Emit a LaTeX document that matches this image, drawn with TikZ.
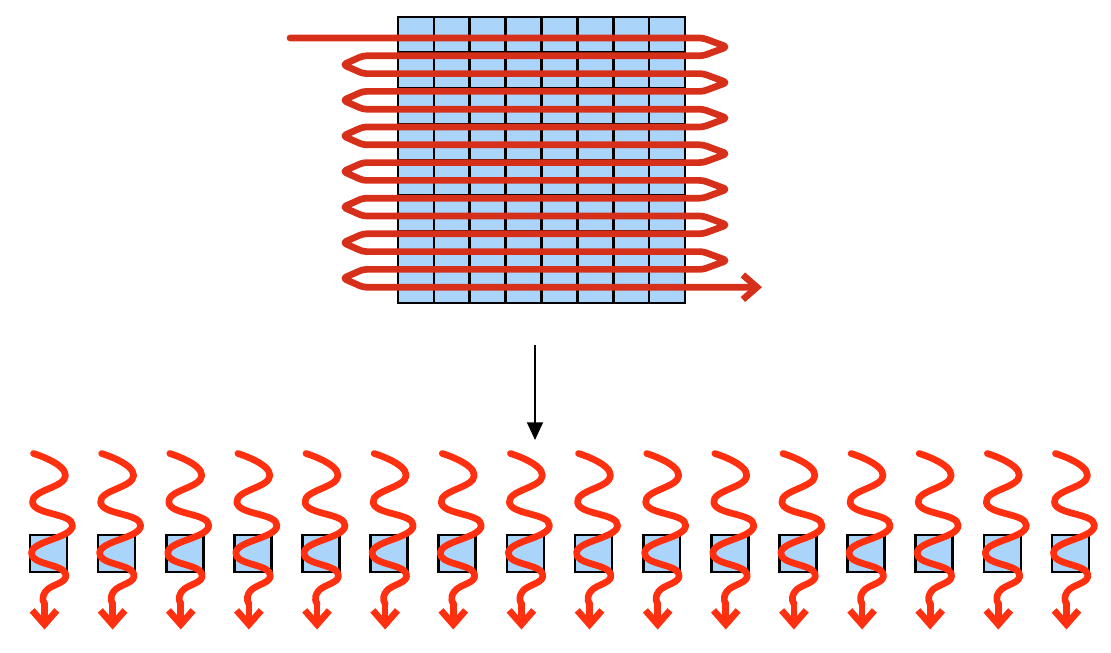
\documentclass[tikz,border=0pt]{standalone}
\usepackage{tikz}
\usetikzlibrary{arrows.meta,calc,positioning}
\definecolor{Cell}{HTML}{AAD4FA}
\definecolor{Snake}{HTML}{D7301A}
\definecolor{Wave}{HTML}{FF3010}

\begin{document}
\begin{tikzpicture}[x=0.02cm,y=-0.02cm,
  gridline/.style={black,line width=1.5pt},
  cellbox/.style={draw=black,line width=1.5pt,fill=Cell,minimum size=0.74cm,inner sep=0pt},
  snake/.style={Snake,line width=3.8pt,line join=round,line cap=round,rounded corners=2pt},
  wave/.style={Wave,line width=3.8pt,line cap=round,line join=round}]
  \useasboundingbox (0,0) rectangle (1111,652);
  % the 8x8 block
  \node[cellbox,minimum width=5.74cm,minimum height=5.72cm] (block) at (541.5,160) {};
  \foreach \k in {1,...,7}{
    \draw[gridline] ({398+\k*35.875},17) -- ({398+\k*35.875},303);
    \draw[gridline] (398,{17+\k*35.75}) -- (685,{17+\k*35.75});
  }
  % row-by-row scan
  \draw[snake,-{Straight Barb[length=8pt,width=14pt]}] (290,38)
    \foreach \j in {0,...,6}{ -- (703,{38+2*\j*17.8}) -- (727,{38+(2*\j+.5)*17.8})
      -- (703,{38+(2*\j+1)*17.8}) -- (363,{38+(2*\j+1)*17.8})
      -- (343,{38+(2*\j+1.5)*17.8}) -- (363,{38+(2*\j+2)*17.8}) }
    -- (762,{38+14*17.8});
  % flattening arrow
  \coordinate (top) at (535,345);
  \coordinate (bot) at (535,440);
  \draw[line width=1.1pt,-{Triangle[length=10pt,width=9pt]}] (top) -- (bot);
  % single cells
  \foreach \i in {0,...,15}{
    \node[cellbox] (sq\i) at ({48.5+\i*68.13},553.5) {};
    \begin{scope}[shift={(sq\i.center)}]
      \coordinate (kink\i) at (-4,50);
      \coordinate (tip\i) at (-4,76);
      \draw[wave] plot[smooth,tension=.9] coordinates {(-15,-100) (17,-78) (-16,-51) (24,-28) (-17,-1) (17,20) (-3,38) (kink\i)};
      \draw[wave,-{Straight Barb[length=8pt,width=14pt]}] (kink\i) -- (tip\i);
    \end{scope}
  }
\end{tikzpicture}
\end{document}
